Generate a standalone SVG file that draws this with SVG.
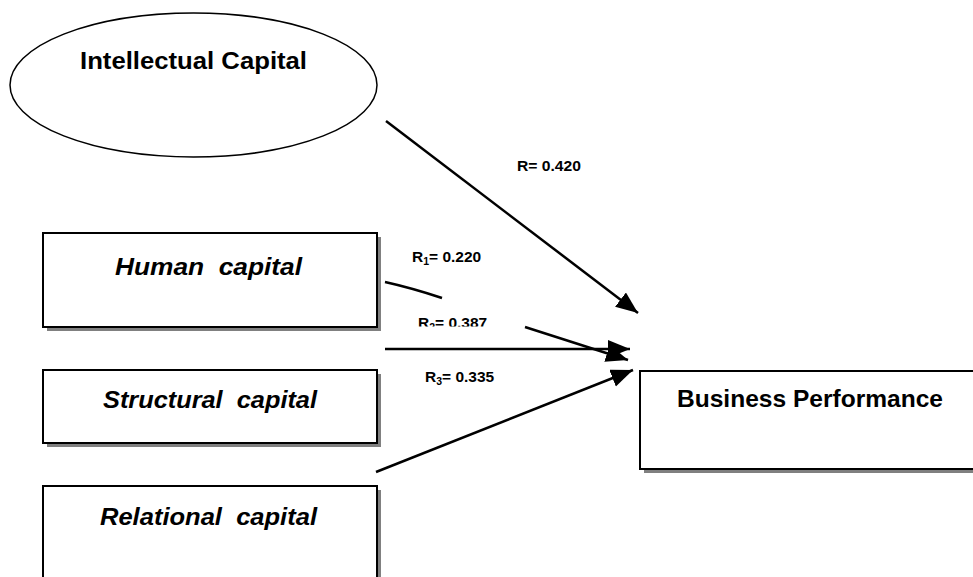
<svg xmlns="http://www.w3.org/2000/svg" width="973" height="577" viewBox="0 0 973 577">
<defs>
<marker id="ah" markerUnits="userSpaceOnUse" markerWidth="24" markerHeight="20" refX="22" refY="9" orient="auto">
<path d="M0,0 L22,9 L0,18 Z" fill="#000"/>
</marker>
<clipPath id="clipR2"><rect x="400" y="300" width="120" height="26.5"/></clipPath>
</defs>
<style>
.box{fill:#fff;stroke:#000;stroke-width:2}
.shadow{fill:#808080}
.title{font-family:"Liberation Sans",Arial,sans-serif;font-weight:bold;font-size:24.5px;fill:#000}
.ital{font-family:"Liberation Sans",Arial,sans-serif;font-weight:bold;font-style:italic;font-size:24.5px;fill:#000}
.lbl{font-family:"Liberation Sans",Arial,sans-serif;font-weight:bold;font-size:15.5px;fill:#000}
.sub{font-size:10.5px}
.conn{fill:none;stroke:#000;stroke-width:2.5}
</style>
<rect width="973" height="577" fill="#fff"/>

<g id="intellectual-capital">
<ellipse cx="193.5" cy="85" rx="183.5" ry="72" fill="#fff" stroke="#000" stroke-width="1.5"/>
<text class="title" x="80" y="69" textLength="227" lengthAdjust="spacingAndGlyphs">Intellectual Capital</text>
</g>

<g id="human-capital">
<rect class="shadow" x="47" y="237" width="334" height="94"/>
<rect class="box" x="43" y="233" width="334" height="94"/>
<text class="ital" x="115" y="275" xml:space="preserve" textLength="187" lengthAdjust="spacingAndGlyphs">Human  capital</text>
</g>

<g id="structural-capital">
<rect class="shadow" x="47" y="374" width="334" height="73"/>
<rect class="box" x="43" y="370" width="334" height="73"/>
<text class="ital" x="103" y="408" xml:space="preserve" textLength="214" lengthAdjust="spacingAndGlyphs">Structural  capital</text>
</g>

<g id="relational-capital">
<rect class="shadow" x="47" y="490" width="334" height="100"/>
<rect class="box" x="43" y="486" width="334" height="100"/>
<text class="ital" x="100" y="525" xml:space="preserve" textLength="217" lengthAdjust="spacingAndGlyphs">Relational  capital</text>
</g>

<g id="business-performance">
<rect class="shadow" x="644" y="375" width="340" height="98"/>
<rect class="box" x="640" y="371" width="340" height="98"/>
<text class="title" x="677" y="407" textLength="266" lengthAdjust="spacingAndGlyphs">Business Performance</text>
</g>

<g id="connectors">
<line class="conn" x1="386" y1="121" x2="638" y2="313" marker-end="url(#ah)"/>
<path class="conn" d="M385,282 Q412,288 442,298"/>
<line class="conn" x1="525" y1="327" x2="628" y2="360" marker-end="url(#ah)"/>
<line class="conn" x1="385" y1="349" x2="630" y2="349" marker-end="url(#ah)"/>
<line class="conn" x1="376" y1="472" x2="633" y2="370" marker-end="url(#ah)"/>
<text class="lbl" x="517" y="171" textLength="64" lengthAdjust="spacingAndGlyphs">R= 0.420</text>
<text class="lbl" x="412" y="262">R<tspan class="sub" dy="3">1</tspan><tspan dy="-3">= 0.220</tspan></text>
<text class="lbl" x="418" y="328" clip-path="url(#clipR2)">R<tspan class="sub" dy="3">2</tspan><tspan dy="-3">= 0.387</tspan></text>
<text class="lbl" x="425" y="382">R<tspan class="sub" dy="3">3</tspan><tspan dy="-3">= 0.335</tspan></text>
</g>
</svg>
